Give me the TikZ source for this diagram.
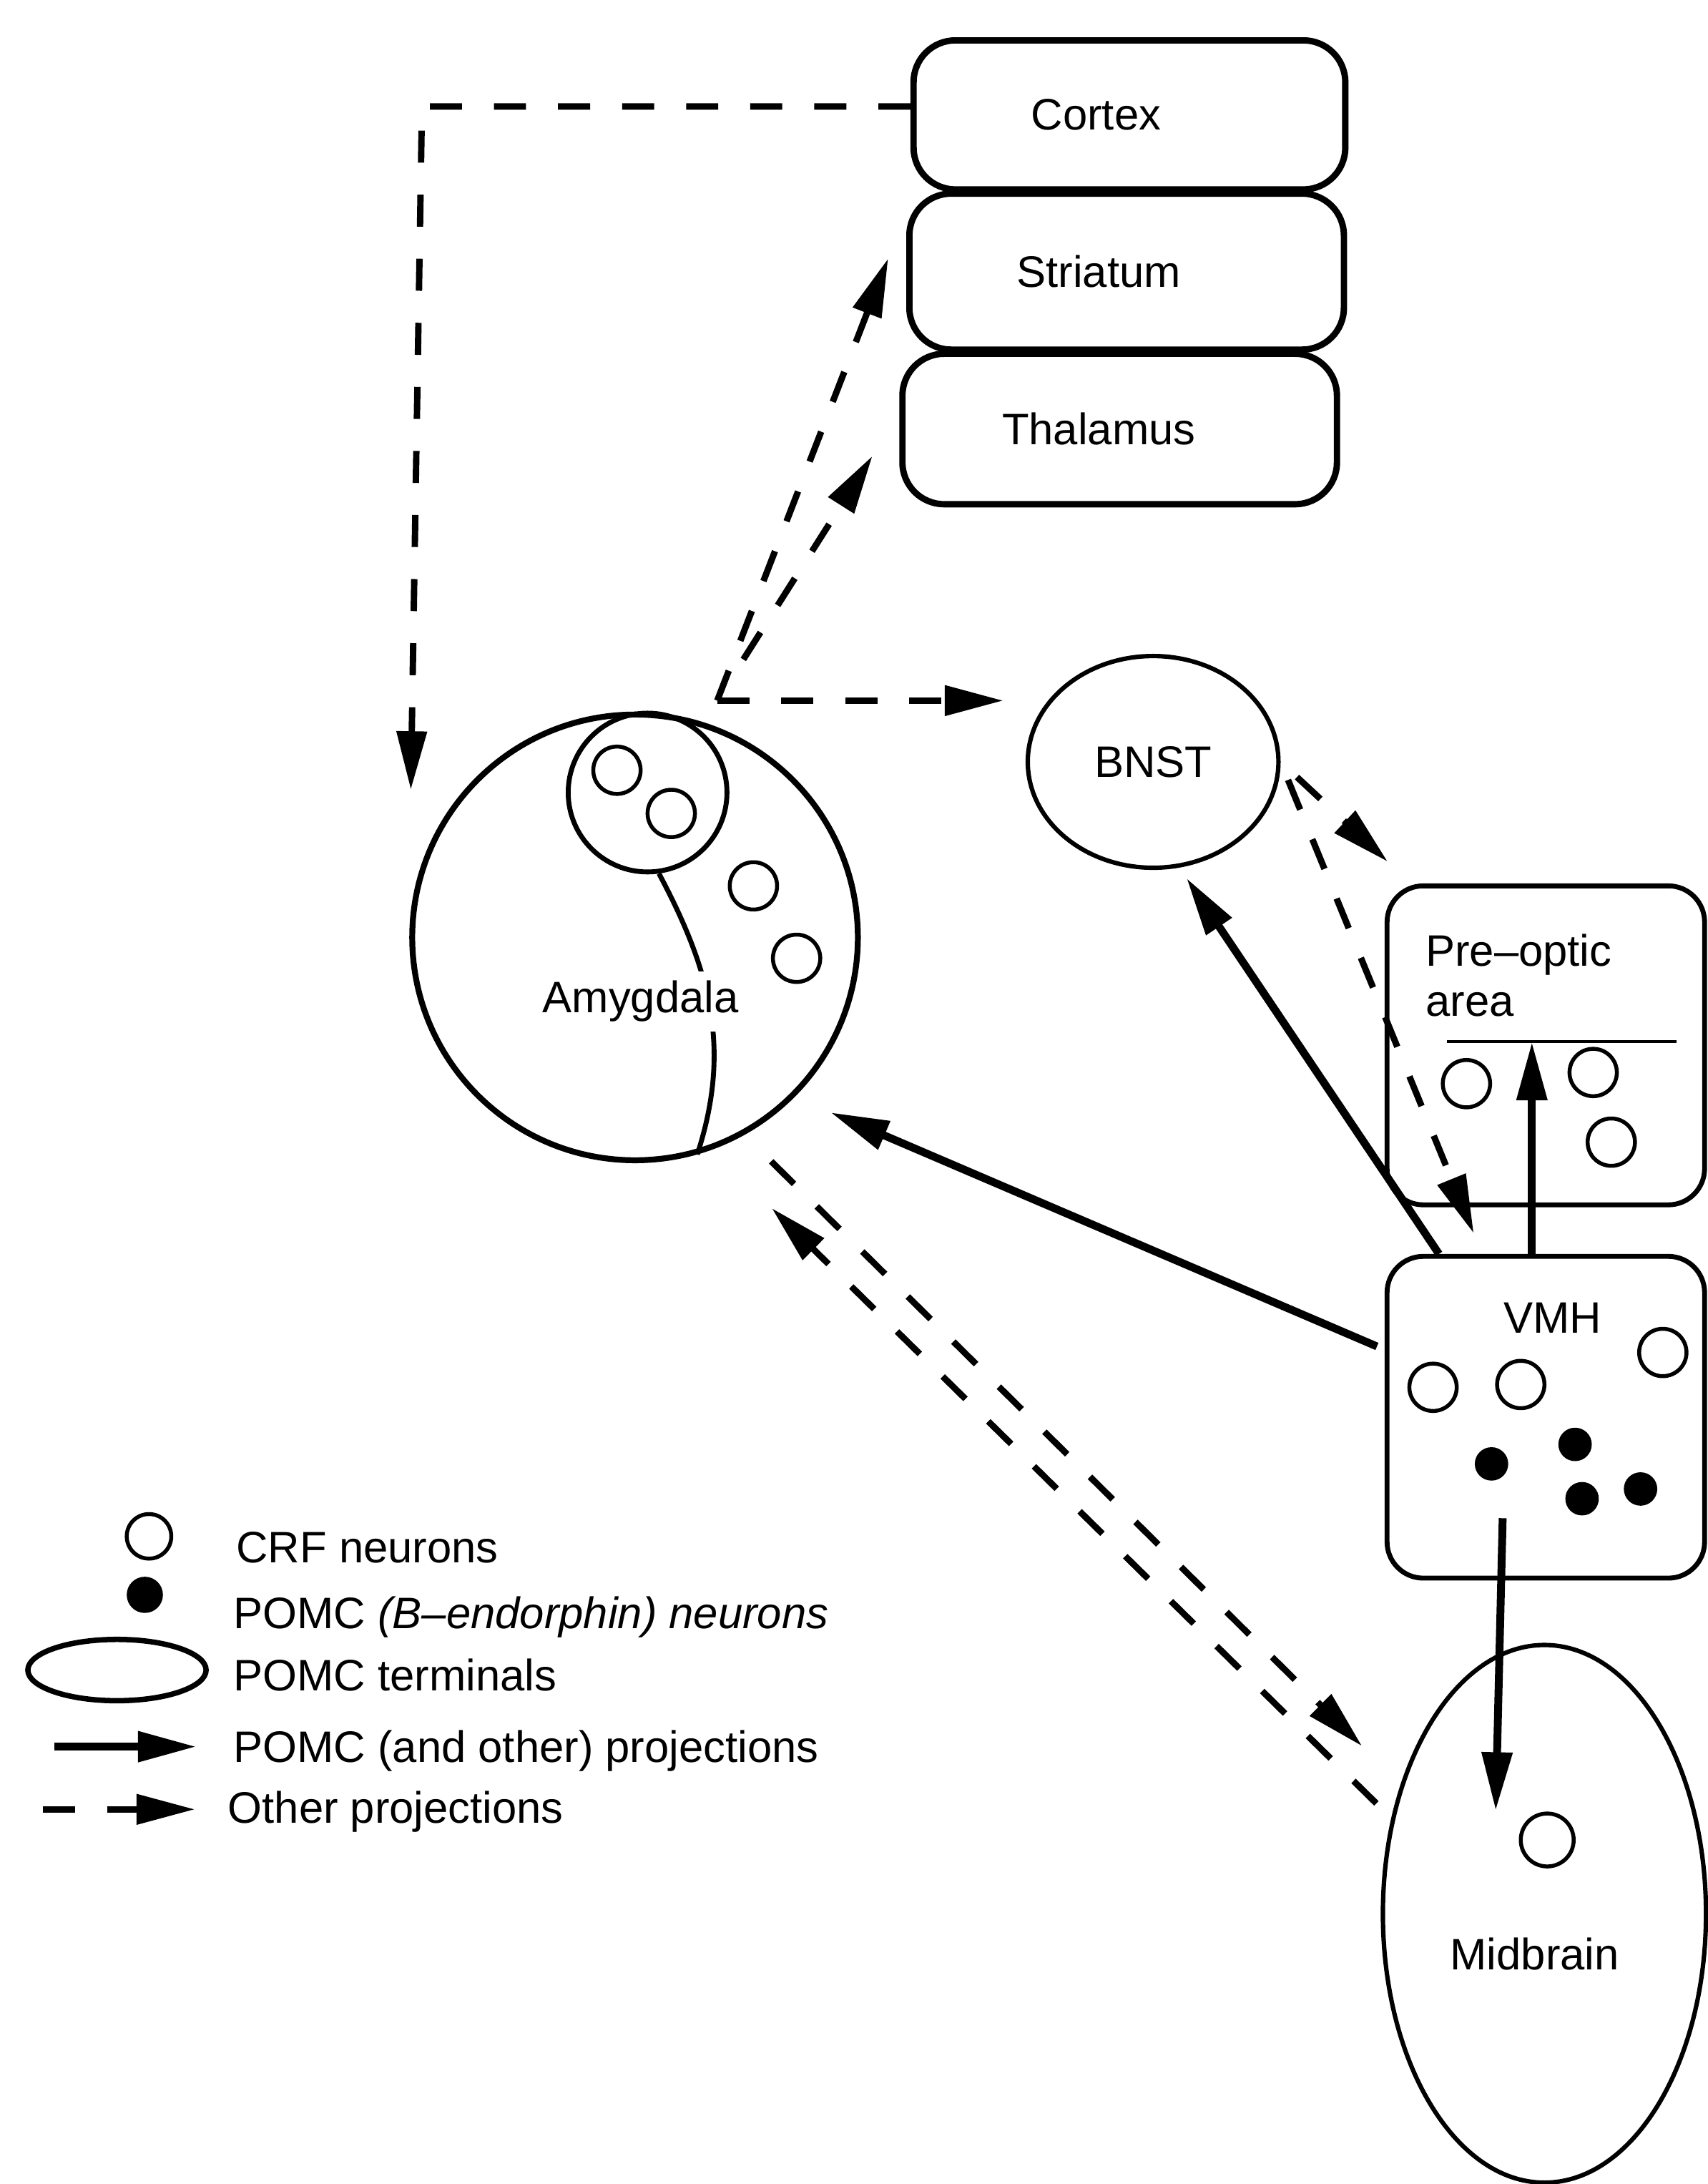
\documentclass[tikz,border=0pt]{standalone}
\usepackage{fontspec}
\setmainfont{Liberation Sans}
\usetikzlibrary{arrows.meta,shapes.geometric}

\tikzset{
  region/.style={draw, line width=1.3pt, rounded corners=3mm, inner sep=0pt},
  nucleus/.style={draw, line width=1pt, rounded corners=2.6mm, inner sep=0pt},
  crf/.style={draw, circle, line width=0.8pt, minimum size=3.4mm, inner sep=0pt},
  pomc/.style={fill, circle, minimum size=2.4mm, inner sep=0pt},
  pomcproj/.style={-{Triangle[length=4.2mm,width=2.1mm]}, line width=1.6pt},
  otherproj/.style={-{Triangle[length=4.2mm,width=2.1mm]}, line width=1.3pt,
    dash pattern=on 2.3mm off 2.3mm},
  legendtext/.style={anchor=base west, inner sep=0pt},
}

\begin{document}
\begin{tikzpicture}[font=\fontsize{9}{10.2}\selectfont]
    % Fix the page size
    \useasboundingbox (0,0) rectangle (12.26,-15.68);
    % Draw the upper regions
    \node[region, minimum width=3.10cm, minimum height=1.07cm,
        label={[xshift=-2.4mm]center:Cortex}] (cortex) at (8.11,-0.825) {};
    \node[region, minimum width=3.12cm, minimum height=1.12cm,
        label={[xshift=-2.0mm]center:Striatum}] (striatum) at (8.09,-1.95) {};
    \node[region, minimum width=3.12cm, minimum height=1.08cm,
        label={[xshift=-1.5mm]center:Thalamus}] (thalamus) at (8.04,-3.08) {};
    % Draw the amygdala
    \node[circle, draw, line width=1.2pt, minimum size=3.2cm, inner sep=0pt] (amyg) at (4.56,-6.73) {};
    \node[circle, draw, line width=1pt, minimum size=1.14cm, inner sep=0pt] (central) at (4.65,-5.69) {};
    \draw[line width=1pt] (central.-82) to[out=-62,in=72] (amyg.-74);
    \node[fill=white, inner sep=2pt] (amyglbl) at (4.60,-7.19) {Amygdala};
    \foreach \p [count=\i] in {(4.43,-5.53),(4.82,-5.84),(5.41,-6.36),(5.72,-6.88)}
        \node[crf] (amcrf\i) at \p {};
    % Draw the BNST
    \node[ellipse, draw, line width=0.9pt, minimum width=1.80cm, minimum height=1.52cm, inner sep=0pt] (bnst) at (8.28,-5.47) {BNST};
    % Draw the pre-optic area
    \node[nucleus, minimum width=2.28cm, minimum height=2.29cm] (poa) at (11.10,-7.505) {};
    \node[anchor=north west, align=left, inner sep=0pt] (poalbl) at (10.23,-6.70) {Pre–optic\\area};
    \draw[line width=0.6pt] (10.39,-7.48) -- (12.04,-7.48);
    \foreach \p [count=\i] in {(10.53,-7.78),(11.44,-7.70),(11.57,-8.20)}
        \node[crf] (pocrf\i) at \p {};
    % Draw the VMH
    \node[nucleus, minimum width=2.28cm, minimum height=2.31cm] (vmh) at (11.10,-10.175) {};
    \node (vmhlbl) at (11.15,-9.46) {VMH};
    \foreach \p [count=\i] in {(10.29,-9.96),(10.92,-9.94),(11.94,-9.71)}
        \node[crf] (vmcrf\i) at \p {};
    \foreach \p [count=\i] in {(10.71,-10.51),(11.31,-10.37),(11.36,-10.76),(11.78,-10.69)}
        \node[pomc] (vmpomc\i) at \p {};
    % Draw the midbrain
    \node[ellipse, draw, line width=0.9pt, minimum width=2.32cm, minimum height=3.86cm, inner sep=0pt] (midbrain) at (11.09,-13.74) {};
    \node[crf, minimum size=3.8mm] (mbcrf) at (11.11,-13.21) {};
    \node (mblbl) at (11.02,-14.03) {Midbrain};
    % POMC projections
    \coordinate (poatip) at (11.00,-7.48);
    \coordinate (vmhout) at (10.79,-10.90);
    \coordinate (mbin) at (10.74,-13.00);
    \draw[pomcproj] (vmh.north -| poatip) -- (poatip);
    \draw[pomcproj, shorten >=0.9mm] ([xshift=3.9mm]vmh.north west) -- (bnst.-76);
    \draw[pomcproj, shorten <=0.6mm, shorten >=2.8mm] ([yshift=4.85mm]vmh.west) -- (amyg.-45);
    \draw[pomcproj] (vmhout) -- (mbin);
    % Other projections
    \coordinate (amygin) at (2.95,-5.67);
    \coordinate (amygtop) at (5.15,-5.03);
    \draw[otherproj] ([yshift=0.6mm]cortex.west) -- (3.03,-0.765) -- (amygin);
    \draw[otherproj, shorten >=3.6mm] (amygtop) -- ([yshift=4.3mm]striatum.west);
    \draw[otherproj, shorten <=3.5mm, shorten >=3.6mm] (amygtop) -- ([yshift=1.1mm]thalamus.west);
    \draw[otherproj, shorten >=1.6mm] (amygtop) -- (amygtop -| bnst.west);
    \draw[otherproj, shorten <=1.4mm, shorten >=1.6mm] (bnst.east) -- ([xshift=7mm]vmh.north west);
    \draw[otherproj, shorten <=1.6mm, shorten >=2.3mm] (bnst.east) -- ([xshift=1.9mm]poa.north west);
    \draw[otherproj, shorten <=2.7mm, shorten >=3.9mm] (amyg.-61) -- (midbrain.138);
    \draw[otherproj, shorten <=1.5mm, shorten >=6mm] (midbrain.148) -- (amyg.-70);
    % Draw the legend
    \node[crf, minimum size=3.2mm] (keycrf) at (1.07,-11.03) {};
    \node[pomc, minimum size=2.6mm] (keypomc) at (1.04,-11.45) {};
    \node[ellipse, draw, line width=1.1pt, minimum width=1.28cm, minimum height=0.44cm, inner sep=0pt] (keyterm) at (0.84,-11.99) {};
    \coordinate (keyproja) at (0.39,-12.54);
    \coordinate (keyprojb) at (1.41,-12.54);
    \draw[pomcproj] (keyproja) -- (keyprojb);
    \coordinate (keyothera) at (0.31,-12.99);
    \coordinate (keyotherb) at (1.40,-12.99);
    \draw[otherproj] (keyothera) -- (keyotherb);
    \node[legendtext] (keycrftxt) at (1.69,-11.22) {CRF neurons};
    \node[legendtext] (keypomctxt) at (1.67,-11.69) {POMC \textit{(B–endorphin) neurons}};
    \node[legendtext] (keytermtxt) at (1.67,-12.14) {POMC terminals};
    \node[legendtext] (keyprojtxt) at (1.67,-12.65) {POMC (and other) projections};
    \node[legendtext] (keyothertxt) at (1.63,-13.09) {Other projections};
\end{tikzpicture}
\end{document}
